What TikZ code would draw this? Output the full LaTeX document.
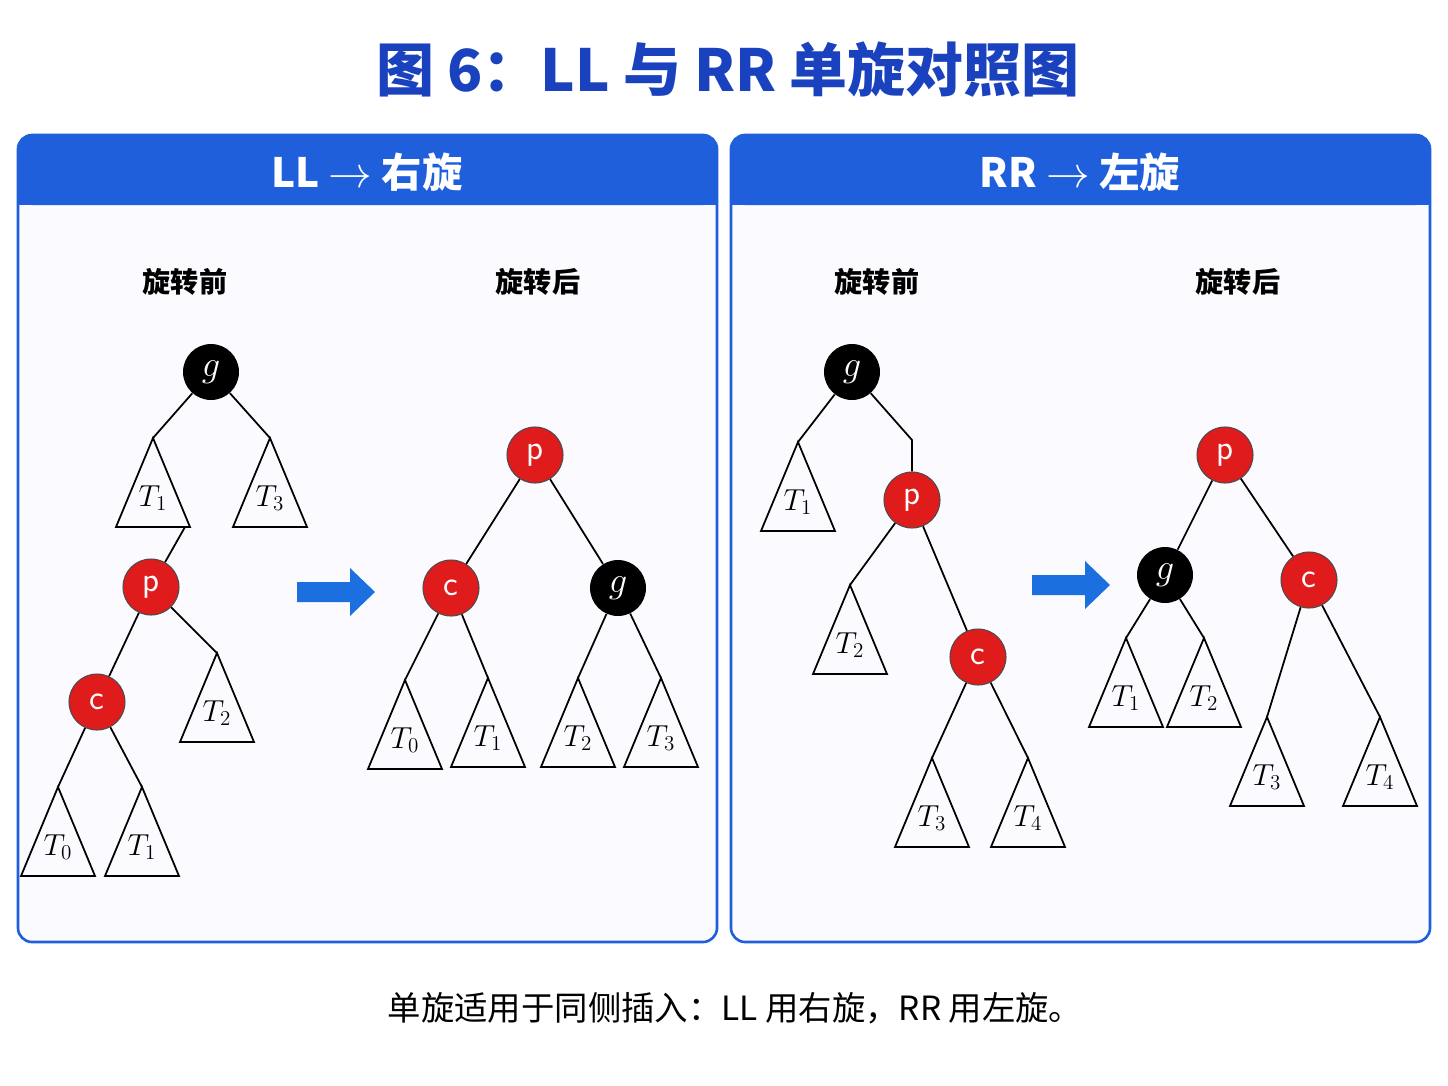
\documentclass[tikz,border=0pt]{standalone}
\usepackage{fontspec}
\setmainfont{Noto Sans CJK SC}
\usetikzlibrary{positioning}
\definecolor{hdr}{HTML}{1F5FDC}
\definecolor{ttl}{HTML}{1A42BE}
\definecolor{rd}{HTML}{E01B1B}
\tikzstyle{red} = [circle, fill=rd, draw=black!70, line width=0.6pt, minimum size=1.12cm, inner sep=0pt, text=white, font=\sffamily\fontsize{20}{20}\selectfont]
\tikzstyle{blk} = [circle, fill=black, minimum size=1.12cm, inner sep=0pt, text=white, font=\fontsize{22}{22}\selectfont]
\tikzstyle{lbl} = [font=\fontsize{16}{16}\selectfont\bfseries]
\tikzstyle{edge} = [line width=1pt]
% triangle subtree: name, apex, label
\newcommand{\tri}[3]{%
  \coordinate (#1) at (#2);
  \draw[line width=1pt] (#1) -- ++(-37,89) -- ++(74,0) -- cycle;
  \node[font=\fontsize{18}{18}\selectfont] at ([yshift=-1.2cm]#1) {$#3$};}
\newcommand{\blockarrow}[2]{%
  \fill[hdr!90!cyan] (#1,#2) ++(0,-10) -- ++(53,0) -- ++(0,-14) -- ++(25,24) -- ++(-25,24) -- ++(0,-14) -- ++(-53,0) -- cycle;}

\begin{document}
\begin{tikzpicture}[x=0.02cm, y=-0.02cm]
  \useasboundingbox (0,0) rectangle (1448,1086);
  \fill[white] (0,0) rectangle (1448,1086);
  \node (title) at (728,70) [text=ttl, font=\fontsize{33}{33}\selectfont\bfseries] {图 6：LL 与 RR 单旋对照图};
  % panels
  \foreach \x/\t in {18/{LL $\rightarrow$ 右旋}, 731/{RR $\rightarrow$ 左旋}} {
    \fill[blue!2, rounded corners=8] (\x,135) rectangle ++(699,807);
    \fill[hdr, rounded corners=8] (\x,135) rectangle ++(699,70);
    \fill[hdr] (\x,185) rectangle ++(699,20);
    \draw[hdr, line width=1.5pt, rounded corners=8] (\x,135) rectangle ++(699,807);
    \node[text=white, font=\fontsize{23}{23}\selectfont\bfseries] at (\x+349,172) {\t};
  }
  \node (l1) at (185,282) [lbl] {旋转前};
  \node (l2) at (538,282) [lbl] {旋转后};
  \node (l3) at (877,282) [lbl] {旋转前};
  \node (l4) at (1238,282) [lbl] {旋转后};

  % LL before
  \node (g1) at (211,372) [blk] {$g$};
  \tri{a1}{153,438}{T_1}
  \tri{a3}{270,438}{T_3}
  \node (p1) at (151,587) [red] {p};
  \tri{a2}{217,653}{T_2}
  \node (c1) at (97,702) [red] {c};
  \tri{a0}{58,787}{T_0}
  \tri{a4}{142,787}{T_1}
  \coordinate (b1) at (185,527);
  \draw[edge] (g1) -- (a1);
  \draw[edge] (g1) -- (a3);
  \draw[edge] (b1) -- (p1);
  \draw[edge] (p1) -- (c1);
  \draw[edge] (p1) -- (a2);
  \draw[edge] (c1) -- (a0);
  \draw[edge] (c1) -- (a4);
  \blockarrow{297}{592}

  % LL after
  \node (p2) at (535,455) [red] {p};
  \node (c2) at (451,588) [red] {c};
  \node (g2) at (618,588) [blk] {$g$};
  \tri{b0}{405,680}{T_0}
  \tri{bb1}{488,678}{T_1}
  \tri{b2}{578,678}{T_2}
  \tri{b3}{661,678}{T_3}
  \draw[edge] (p2) -- (c2);
  \draw[edge] (p2) -- (g2);
  \draw[edge] (c2) -- (b0);
  \draw[edge] (c2) -- (bb1);
  \draw[edge] (g2) -- (b2);
  \draw[edge] (g2) -- (b3);

  % RR before
  \node (g3) at (852,372) [blk] {$g$};
  \tri{d1}{798,442}{T_1}
  \coordinate (k3) at (912,440);
  \node (p3) at (912,500) [red] {p};
  \tri{d2}{850,585}{T_2}
  \node (c3) at (978,657) [red] {c};
  \tri{d3}{932,758}{T_3}
  \tri{d4}{1028,758}{T_4}
  \draw[edge] (g3) -- (d1);
  \draw[edge] (g3) -- (k3) -- (p3);
  \draw[edge] (p3) -- (d2);
  \draw[edge] (p3) -- (c3);
  \draw[edge] (c3) -- (d3);
  \draw[edge] (c3) -- (d4);
  \blockarrow{1032}{585}

  % RR after
  \node (p4) at (1225,455) [red] {p};
  \node (g4) at (1165,575) [blk] {$g$};
  \node (c4) at (1309,580) [red] {c};
  \tri{e1}{1126,638}{T_1}
  \tri{e2}{1204,638}{T_2}
  \tri{e3}{1267,717}{T_3}
  \tri{e4}{1380,717}{T_4}
  \draw[edge] (p4) -- (g4);
  \draw[edge] (p4) -- (c4);
  \draw[edge] (g4) -- (e1);
  \draw[edge] (g4) -- (e2);
  \draw[edge] (c4) -- (e3);
  \draw[edge] (c4) -- (e4);

  \node (cap) at (735,1008) [font=\fontsize{19}{19}\selectfont] {单旋适用于同侧插入：LL 用右旋，RR 用左旋。};
\end{tikzpicture}
\end{document}
